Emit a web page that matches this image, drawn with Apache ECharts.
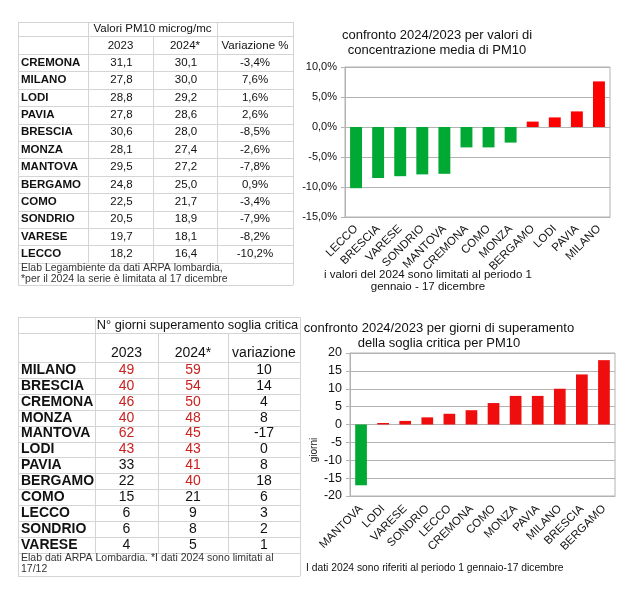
<!DOCTYPE html>
<html><head><meta charset="utf-8">
<script src="https://cdn.jsdelivr.net/npm/echarts@6/dist/echarts.min.js"></script>
<style>html,body{margin:0;padding:0;background:#fff}#c{width:630px;height:609px}</style>
</head><body><div id="c"></div>
<script>
// ---------- DATA ----------
// Table 1: PM10 average concentration (microg/mc)
const pmCities = ['CREMONA','MILANO','LODI','PAVIA','BRESCIA','MONZA','MANTOVA','BERGAMO','COMO','SONDRIO','VARESE','LECCO'];
const pm2023 = [31.1,27.8,28.8,27.8,30.6,28.1,29.5,24.8,22.5,20.5,19.7,18.2];
const pm2024 = [30.1,30.0,29.2,28.6,28.0,27.4,27.2,25.0,21.7,18.9,18.1,16.4];
const pmVar  = [-3.4,7.6,1.6,2.6,-8.5,-2.6,-7.8,0.9,-3.4,-7.9,-8.2,-10.2];
const pmHeader = ['Valori PM10 microg/mc','2023','2024*','Variazione %'];
const pmNotes = ['Elab Legambiente da dati ARPA lombardia,','*per il 2024 la serie è limitata al 17 dicembre'];

// Chart 1: variation % sorted
const pmChartCats = ['LECCO','BRESCIA','VARESE','SONDRIO','MANTOVA','CREMONA','COMO','MONZA','BERGAMO','LODI','PAVIA','MILANO'];
const pmChartVals = [-10.2,-8.5,-8.2,-7.9,-7.8,-3.4,-3.4,-2.6,0.9,1.6,2.6,7.6];
const pmChartTitle = ['confronto 2024/2023 per valori di','concentrazione media di PM10'];
const pmChartNote = ['i valori del 2024 sono limitati al periodo 1','gennaio - 17 dicembre'];

// Table 2: days above critical threshold
const dayCities = ['MILANO','BRESCIA','CREMONA','MONZA','MANTOVA','LODI','PAVIA','BERGAMO','COMO','LECCO','SONDRIO','VARESE'];
const days2023 = [49,40,46,40,62,43,33,22,15,6,6,4];
const days2024 = [59,54,50,48,45,43,41,40,21,9,8,5];
const dayDiff  = [10,14,4,8,-17,0,8,18,6,3,2,1];
const dayLimit = 35;
const dayHeader = ['N° giorni superamento soglia critica','2023','2024*','variazione'];
const dayNotes = ['Elab dati ARPA Lombardia. *I dati 2024 sono limitati al','17/12'];

// Chart 2: variation in days sorted
const dayChartCats = ['MANTOVA','LODI','VARESE','SONDRIO','LECCO','CREMONA','COMO','MONZA','PAVIA','MILANO','BRESCIA','BERGAMO'];
const dayChartVals = [-17,0,1,2,3,4,6,8,8,10,14,18];
const dayChartTitle = ['confronto 2024/2023 per giorni di superamento','della soglia critica per PM10'];
const dayChartNote = 'I dati 2024 sono riferiti al periodo 1 gennaio-17 dicembre';
const dayAxisName = 'giorni';

// ---------- STYLE ----------
const FONT = '"Liberation Sans", Arial, sans-serif';
const GRID_C = '#b3b3b3';
const TABLE_C = '#d4d4d4';
const TXT = '#111111';
const GREEN = '#00a933', RED = '#ff0000', RED2 = '#f00d0d', TRED = '#c9211e';
const fmt1 = v => v.toFixed(1).replace('.', ',');

const els = [];
function hline(x1, x2, y, c){ y = Math.round(y) + 0.5; els.push({type:'line', silent:true, shape:{x1:x1, y1:y, x2:x2, y2:y}, style:{stroke:c||TABLE_C, lineWidth:1}}); }
function vline(x, y1, y2, c){ x = Math.round(x) + 0.5; els.push({type:'line', silent:true, shape:{x1:x, y1:y1, x2:x, y2:y2}, style:{stroke:c||TABLE_C, lineWidth:1}}); }
function txt(s, x, y, size, opt){
  opt = opt || {};
  els.push({type:'text', silent:true, x:x, y:y, rotation:opt.rot||0, style:{text:s, fontSize:size, fontFamily:FONT, fontWeight:opt.bold?'bold':'normal',
    fill:opt.color||TXT, align:opt.align||'center', textAlign:opt.align||'center', verticalAlign:'middle', textVerticalAlign:'middle'}});
}

// ---------- TABLE 1 ----------
(function(){
  const cx = [18, 88, 153, 217, 293];
  const top = 22, h1 = 36, h2 = 54, rh = 17.4, n = pmCities.length;
  const dataEnd = h2 + rh * n, bottom = 285;
  hline(cx[0], cx[4], top); hline(cx[0], cx[4], h1); hline(cx[0], cx[4], h2);
  for (let i = 1; i <= n; i++) hline(cx[0], cx[4], h2 + rh * i);
  hline(cx[0], cx[4], bottom);
  vline(cx[0], top, bottom); vline(cx[4], top, bottom);
  vline(cx[1], top, dataEnd); vline(cx[3], top, dataEnd); vline(cx[2], h1, dataEnd);
  const fs = 11.5;
  txt(pmHeader[0], (cx[1] + cx[3]) / 2, 29, fs);
  txt(pmHeader[1], (cx[1] + cx[2]) / 2, 46, fs);
  txt(pmHeader[2], (cx[2] + cx[3]) / 2, 46, fs);
  txt(pmHeader[3], (cx[3] + cx[4]) / 2, 46, fs);
  for (let i = 0; i < n; i++) {
    const y = h2 + rh * (i + 0.5);
    txt(pmCities[i], 21, y, fs, {bold:true, align:'left'});
    txt(fmt1(pm2023[i]), (cx[1] + cx[2]) / 2 + 1, y, fs);
    txt(fmt1(pm2024[i]), (cx[2] + cx[3]) / 2 + 1, y, fs);
    txt(fmt1(pmVar[i]) + '%', (cx[3] + cx[4]) / 2, y, fs);
  }
  txt(pmNotes[0], 21, 268, 10.5, {align:'left', color:'#333'});
  txt(pmNotes[1], 21, 279, 10.5, {align:'left', color:'#333'});
})();

// ---------- TABLE 2 ----------
(function(){
  const cx = [18, 95, 158, 228, 300];
  const top = 317, h1 = 333, h2 = 362, rh = 15.9, n = dayCities.length;
  const dataEnd = h2 + rh * n, bottom = 576;
  hline(cx[0], cx[4], top); hline(cx[0], cx[4], h1); hline(cx[0], cx[4], h2);
  for (let i = 1; i <= n; i++) hline(cx[0], cx[4], h2 + rh * i);
  hline(cx[0], cx[4], bottom);
  vline(cx[0], top, bottom); vline(cx[4], top, bottom);
  vline(cx[1], top, dataEnd); vline(cx[2], h1, dataEnd); vline(cx[3], h1, dataEnd);
  const fs = 14;
  txt(dayHeader[0], (cx[1] + cx[4]) / 2, 325, 12.8);
  txt(dayHeader[1], (cx[1] + cx[2]) / 2, 353, fs);
  txt(dayHeader[2], (cx[2] + cx[3]) / 2, 353, fs);
  txt(dayHeader[3], (cx[3] + cx[4]) / 2, 353, fs);
  for (let i = 0; i < n; i++) {
    const y = h2 + rh * (i + 0.5);
    txt(dayCities[i], 21, y, fs, {bold:true, align:'left'});
    txt(String(days2023[i]), (cx[1] + cx[2]) / 2, y, fs, {color: days2023[i] > dayLimit ? TRED : TXT});
    txt(String(days2024[i]), (cx[2] + cx[3]) / 2, y, fs, {color: days2024[i] > dayLimit ? TRED : TXT});
    txt(String(dayDiff[i]), (cx[3] + cx[4]) / 2, y, fs);
  }
  txt(dayNotes[0], 21, 558, 10.5, {align:'left', color:'#333'});
  txt(dayNotes[1], 21, 569, 10.5, {align:'left', color:'#333'});
})();

// ---------- CHART TEXTS ----------
txt(pmChartTitle[0], 437, 35, 13);
txt(pmChartTitle[1], 437, 50, 13);
txt(pmChartNote[0], 428, 275, 11.5);
txt(pmChartNote[1], 428, 287, 11.5);
txt(dayChartTitle[0], 439, 328, 13);
txt(dayChartTitle[1], 439, 343, 13);
txt(dayChartNote, 306, 568, 10.3, {align:'left'});
txt(dayAxisName, 314, 450, 10, {rot: Math.PI / 2});

// ---------- CHART ----------
function catAxes(gi, cats, margin){
  return [
    {gridIndex:gi, type:'category', data:cats, position:'bottom',
     axisLine:{onZero:false, lineStyle:{color:GRID_C}}, axisTick:{length:4, lineStyle:{color:GRID_C}},
     axisLabel:{rotate:45, interval:0, fontSize:11.5, color:TXT, margin:margin, fontFamily:FONT}},
    {gridIndex:gi, type:'category', data:cats, position:'top',
     axisLine:{onZero:true, lineStyle:{color:GRID_C}}, axisTick:{inside:true, length:4, lineStyle:{color:GRID_C}},
     axisLabel:{show:false}}
  ];
}
function valAxis(gi, min, max, step, fs, fmt){
  return {gridIndex:gi, type:'value', min:min, max:max, interval:step,
    axisLine:{show:true, lineStyle:{color:GRID_C}}, axisTick:{show:true, length:4, lineStyle:{color:GRID_C}},
    splitLine:{lineStyle:{color:GRID_C}},
    axisLabel:{formatter:fmt, fontSize:fs, color:TXT, margin:8, fontFamily:FONT}};
}
const chart = echarts.init(document.getElementById('c'), null, {renderer:'canvas'});
chart.setOption({
  animation:false,
  backgroundColor:'#ffffff',
  textStyle:{fontFamily:FONT},
  grid:[
    {left:345, top:67, width:265, height:150, show:true, borderColor:GRID_C, borderWidth:1},
    {left:350, top:353, width:265, height:143, show:true, borderColor:GRID_C, borderWidth:1}
  ],
  xAxis: catAxes(0, pmChartCats, 10).concat(catAxes(1, dayChartCats, 11)),
  yAxis:[
    valAxis(0, -15, 10, 5, 11, v => fmt1(v) + '%'),
    valAxis(1, -20, 20, 5, 12.5, v => String(v))
  ],
  series:[
    {type:'bar', xAxisIndex:0, yAxisIndex:0, data:pmChartVals, barWidth:'54%',
     itemStyle:{color:p => p.value < 0 ? GREEN : RED}},
    {type:'bar', xAxisIndex:2, yAxisIndex:1, data:dayChartVals, barWidth:'53%', barMinHeight:1.5,
     itemStyle:{color:p => p.value < 0 ? GREEN : RED2}}
  ],
  graphic:{elements:els}
});
</script>
</body></html>
